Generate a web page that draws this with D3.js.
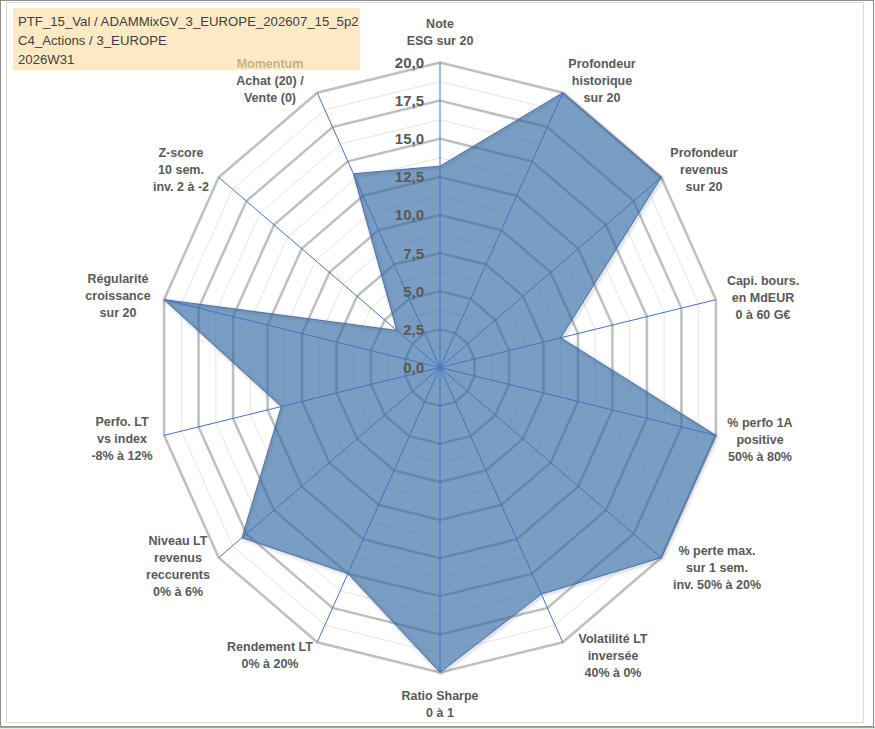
<!DOCTYPE html>
<html>
<head>
<meta charset="utf-8">
<script src="https://cdn.jsdelivr.net/npm/d3@7"></script>
<style>
  body { margin: 0; background: #fff; }
  svg { display: block; }
</style>
</head>
<body>
<div id="mainDiv"></div>
<script>
// axis labels, one array of lines per axis, clockwise from the top
var categories = [
  ["Note", "ESG sur 20"],
  ["Profondeur", "historique", "sur 20"],
  ["Profondeur", "revenus", "sur 20"],
  ["Capi. bours.", "en MdEUR", "0 à 60 G€"],
  ["% perfo 1A", "positive", "50% à 80%"],
  ["% perte max.", "sur 1 sem.", "inv. 50% à 20%"],
  ["Volatilité LT", "inversée", "40% à 0%"],
  ["Ratio Sharpe", "0 à 1"],
  ["Rendement LT", "0% à 20%"],
  ["Niveau LT", "revenus", "reccurents", "0% à 6%"],
  ["Perfo. LT", "vs index", "-8% à 12%"],
  ["Régularité", "croissance", "sur 20"],
  ["Z-score", "10 sem.", "inv. 2 à -2"],
  ["Momentum", "Achat (20) /", "Vente (0)"]
];
var values = [13.2, 20, 20, 8.75, 20, 20, 16.5, 20, 15, 17.9, 11.5, 20, 3.9, 14.1];
var tickValues = [0, 2.5, 5, 7.5, 10, 12.5, 15, 17.5, 20];
var minorValues = [1.25, 3.75, 6.25, 8.75, 11.25, 13.75, 16.25, 18.75];
var titleLines = ["PTF_15_Val / ADAMMixGV_3_EUROPE_202607_15_5p2", "C4_Actions / 3_EUROPE", "2026W31"];

var width = 875, height = 729;
var cx = 440, cy = 367.5, rx = 283, ry = 305;

var svg = d3.select("#mainDiv").append("svg")
    .attr("width", width).attr("height", height);

var defs = svg.append("defs");
var blur = defs.append("filter").attr("id", "blur")
    .attr("x", "-10%").attr("y", "-10%").attr("width", "120%").attr("height", "120%");
blur.append("feGaussianBlur").attr("stdDeviation", 1.8);

// chart frame
svg.append("rect").attr("x", 0.5).attr("y", 0.5).attr("width", 873).attr("height", 726)
    .attr("fill", "none").attr("stroke", "#8c8c8c");
svg.append("rect").attr("x", 6.5).attr("y", 2.5).attr("width", 857).attr("height", 720)
    .attr("fill", "none").attr("stroke", "#d9d9d9");
svg.append("line").attr("x1", 0).attr("x2", 875).attr("y1", 727.5).attr("y2", 727.5)
    .attr("stroke", "#8fb58f").attr("stroke-width", 1.5);

var r = d3.scaleLinear().domain([0, 20]).range([0, 1]);
var angle = d3.scaleLinear().domain([0, categories.length]).range([0, 2 * Math.PI]);

function px(i, v) { return cx + rx * r(v) * Math.sin(angle(i)); }
function py(i, v) { return cy - ry * r(v) * Math.cos(angle(i)); }

var ring = d3.line().x(function(d) { return d[0]; }).y(function(d) { return d[1]; })
    .curve(d3.curveLinearClosed);
function ringPoints(v) {
  return categories.map(function(c, i) { return [px(i, v), py(i, v)]; });
}
var seriesPath = ring(values.map(function(v, i) { return [px(i, v), py(i, v)]; }));

// minor grid
svg.append("g").selectAll("path").data(minorValues).join("path")
    .attr("d", function(v) { return ring(ringPoints(v)); })
    .attr("fill", "none").attr("stroke", "#e6e6e6").attr("stroke-width", 1);

// major grid
svg.append("g").selectAll("path").data(tickValues.slice(1)).join("path")
    .attr("d", function(v) { return ring(ringPoints(v)); })
    .attr("fill", "none").attr("stroke", "#bfbfbf").attr("stroke-width", 2.5)
    .attr("stroke-linejoin", "miter");

// soft edge shadow, then the series
svg.append("path").attr("d", seriesPath)
    .attr("transform", "translate(1.2,1.2)")
    .attr("fill", "none").attr("stroke", "#000").attr("stroke-opacity", 0.18)
    .attr("stroke-width", 2.5).attr("filter", "url(#blur)");
svg.append("path").attr("d", seriesPath)
    .attr("fill", "#3268a4").attr("fill-opacity", 0.65)
    .attr("stroke", "#4a70b0").attr("stroke-width", 1);

// spokes
svg.append("g").selectAll("line").data(categories).join("line")
    .attr("x1", cx).attr("y1", cy)
    .attr("x2", function(d, i) { return px(i, 20); })
    .attr("y2", function(d, i) { return py(i, 20); })
    .attr("stroke", "#4472c4").attr("stroke-width", 1);

// tick labels
svg.append("g").selectAll("text").data(tickValues).join("text")
    .attr("x", 424).attr("y", function(v) { return cy - ry * r(v); })
    .attr("dy", "0.36em").attr("text-anchor", "end")
    .attr("font-family", "Liberation Sans, Arial, sans-serif").attr("font-weight", "bold")
    .attr("font-size", 15).attr("fill", "#595959")
    .text(function(v) { return d3.format(".1f")(v).replace(".", ","); });

// axis labels
var labelPos = [
  [440, 23], [602, 63], [704, 152], [763, 280], [760, 422], [717, 550], [613, 638],
  [440, 695], [270, 646], [178, 540], [122, 421], [118, 278], [181, 152], [270, 63]
];
var labels = svg.append("g")
    .attr("font-family", "Liberation Sans, Arial, sans-serif").attr("font-weight", "bold")
    .attr("font-size", 12.5).attr("fill", "#595959").attr("text-anchor", "middle");
categories.forEach(function(lines, i) {
  var t = labels.append("text").attr("x", labelPos[i][0]).attr("y", labelPos[i][1]);
  lines.forEach(function(line, j) {
    t.append("tspan").attr("x", labelPos[i][0]).attr("dy", j === 0 ? "0.36em" : 17).text(line);
  });
});

// title box
svg.append("rect").attr("x", 13).attr("y", 8).attr("width", 347).attr("height", 62)
    .attr("fill", "#fcdfa4").attr("fill-opacity", 0.65);
svg.append("g").selectAll("text").data(titleLines).join("text")
    .attr("x", 18).attr("y", function(d, i) { return 21 + i * 19; })
    .attr("dy", "0.36em")
    .attr("font-family", "Liberation Sans, Arial, sans-serif").attr("font-size", 13.2)
    .attr("fill", "#404040")
    .text(function(d) { return d; });
</script>
</body>
</html>
